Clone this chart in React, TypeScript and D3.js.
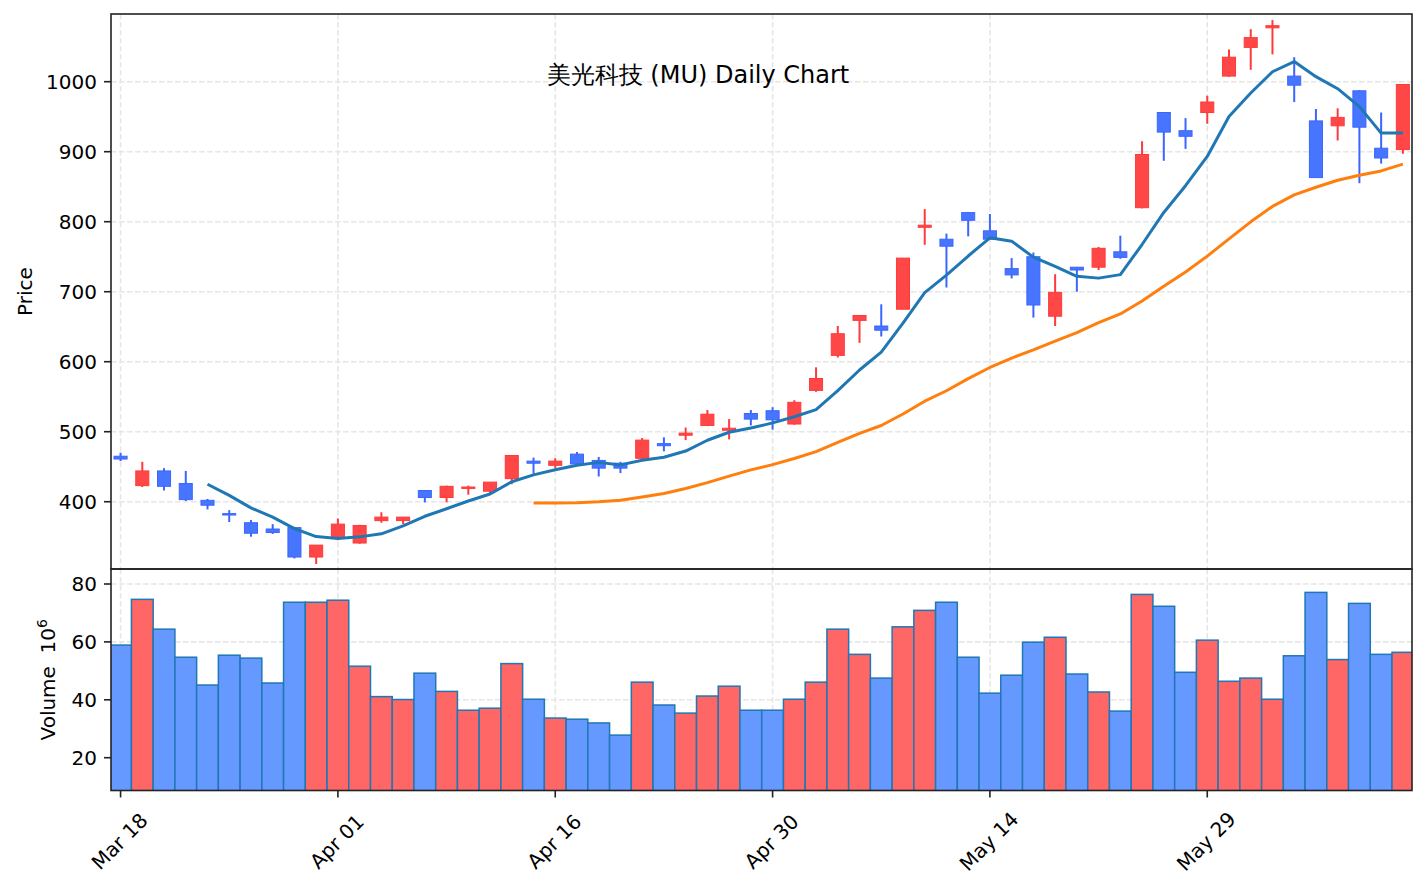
import * as d3 from "d3";

// daily OHLC (index 0 = Mar 18)
const opens = [465, 423, 444, 426, 402, 383, 370, 361, 363, 321, 350, 341, 373, 373, 416, 406, 419, 415, 433, 458,
  452, 468, 459, 455, 462, 483, 495, 509, 502, 526, 530, 511, 559, 609, 659, 651, 675, 792, 775, 813,
  787, 733, 750, 665, 735, 735, 757, 820, 956, 930, 956, 1008, 1049, 1077, 1008, 944, 937, 987, 905, 903];
const highs = [470, 457, 448, 444, 404, 388, 374, 368, 364, 338, 376, 367, 385, 378, 416, 423, 423, 428, 466, 463,
  462, 471, 464, 457, 491, 492, 506, 531, 518, 531, 535, 545, 592, 651, 666, 682, 748, 818, 783, 814,
  811, 748, 756, 725, 735, 764, 780, 915, 956, 948, 980, 1046, 1075, 1088, 1035, 961, 962, 988, 956, 996];
const lows = [458, 421, 416, 401, 389, 371, 350, 354, 319, 311, 345, 340, 370, 368, 399, 399, 410, 412, 425, 440,
  448, 453, 436, 441, 461, 472, 488, 508, 489, 509, 503, 510, 557, 606, 627, 636, 675, 767, 706, 779,
  775, 719, 663, 651, 700, 731, 747, 819, 887, 904, 940, 1007, 1017, 1039, 971, 863, 916, 855, 883, 897];
const closes = [461, 444, 422, 403, 395, 381, 355, 356, 321, 338, 368, 366, 378, 378, 406, 422, 421, 428, 466, 455,
  458, 454, 448, 448, 488, 480, 498, 525, 505, 518, 517, 542, 576, 640, 666, 645, 748, 795, 765, 802,
  775, 724, 681, 699, 731, 762, 749, 896, 928, 922, 971, 1035, 1063, 1080, 995, 863, 949, 935, 891, 996];
// volume in millions
const volumes = [58.9, 74.7, 64.4, 54.7, 45.1, 55.4, 54.4, 45.8, 73.7, 73.7, 74.4, 51.6, 41.1, 40.1, 49.2, 42.9, 36.4, 37.1, 52.5, 40.2,
  33.7, 33.3, 32.0, 27.8, 46.1, 38.2, 35.4, 41.3, 44.7, 36.4, 36.4, 40.2, 46.1, 64.4, 55.7, 47.5, 65.2, 70.9, 73.7, 54.7,
  42.3, 48.5, 59.9, 61.6, 48.9, 42.7, 36.1, 76.4, 72.3, 49.5, 60.6, 46.4, 47.5, 40.2, 55.2, 77.1, 53.9, 73.3, 55.7, 56.4];

const tickIdx = [0, 10, 20, 30, 40, 50];
const tickLabels = ["Mar 18", "Apr 01", "Apr 16", "Apr 30", "May 14", "May 29"];
const priceTicks = [400, 500, 600, 700, 800, 900, 1000];
const volTicks = [20, 40, 60, 80];
const maWindows = [5, 20];
const maColors = ["#1f77b4", "#ff7f0e"];

const W = 1427, H = 889;
const left = 111, right = 1412;
const pTop = 14, pBot = 569, vTop = 569, vBot = 790.5;
const FONT = "DejaVu Sans";
const FS = 20;

const UP_BODY = "#ff4747", UP_EDGE = "#ff3a3a";
const DN_BODY = "#4775ff", DN_EDGE = "#3a66ff";
const UP_VOL = "#ff6666", DN_VOL = "#6699ff";

function movingAvg(vals: number[], n: number) {
  return vals.map((_, i) => (i < n - 1 ? null : d3.mean(vals.slice(i - n + 1, i + 1))!));
}

export default function App() {
  const x = d3.scaleLinear().domain([-0.44, 59.42]).range([left, right]);
  const yP = d3.scaleLinear().domain([303.9, 1096.7]).range([pBot, pTop]);
  const yV = d3.scaleLinear().domain([8.67, 85.18]).range([vBot, vTop]);
  const idx = d3.range(closes.length);
  const bw = x(0.3) - x(-0.3);

  const line = d3
    .line<number | null>()
    .defined((d) => d != null)
    .x((_, i) => x(i))
    .y((d) => yP(d as number));

  const grid = { stroke: "#e6e6e6", strokeWidth: 1.6, strokeDasharray: "5.5,2.5" };

  return (
    <div style={{ position: "absolute", left: 0, top: 0 }}>
      <svg width={W} height={H} style={{ display: "block", background: "#fff" }} fontFamily={FONT}>
        <defs>
          <clipPath id="pclip"><rect x={left} y={pTop} width={right - left} height={pBot - pTop} /></clipPath>
          <clipPath id="vclip"><rect x={left} y={vTop} width={right - left} height={vBot - vTop} /></clipPath>
        </defs>

        {/* grids */}
        {tickIdx.map((t) => (
          <g key={"vg" + t}>
            <line x1={x(t)} x2={x(t)} y1={pTop} y2={pBot} {...grid} />
            <line x1={x(t)} x2={x(t)} y1={vTop} y2={vBot} {...grid} />
          </g>
        ))}
        {priceTicks.map((p) => (
          <line key={"pg" + p} x1={left} x2={right} y1={yP(p)} y2={yP(p)} {...grid} />
        ))}
        {volTicks.map((v) => (
          <line key={"vg" + v} x1={left} x2={right} y1={yV(v)} y2={yV(v)} {...grid} />
        ))}

        {/* candles */}
        <g clipPath="url(#pclip)">
          {idx.map((i) => {
            const up = closes[i] >= opens[i];
            return (
              <line key={"w" + i} x1={x(i)} x2={x(i)} y1={yP(highs[i])} y2={yP(lows[i])}
                stroke={up ? UP_EDGE : DN_EDGE} strokeWidth={2} />
            );
          })}
          {idx.map((i) => {
            const up = closes[i] >= opens[i];
            const top = yP(Math.max(opens[i], closes[i]));
            const h = Math.max(1, yP(Math.min(opens[i], closes[i])) - top);
            return (
              <rect key={"b" + i} x={x(i) - bw / 2} y={top} width={bw} height={h}
                fill={up ? UP_BODY : DN_BODY} stroke={up ? UP_EDGE : DN_EDGE} strokeWidth={1} />
            );
          })}
          {maWindows.map((n, k) => (
            <path key={"ma" + n} d={line(movingAvg(closes, n)) || ""} fill="none"
              stroke={maColors[k]} strokeWidth={3} strokeLinejoin="round" />
          ))}
        </g>

        {/* volume */}
        <g clipPath="url(#vclip)">
          {idx.map((i) => {
            const up = closes[i] >= opens[i];
            return (
              <rect key={"v" + i} x={x(i - 0.5)} y={yV(volumes[i])} width={x(i + 0.5) - x(i - 0.5)}
                height={vBot - yV(volumes[i]) + 2}
                fill={up ? UP_VOL : DN_VOL} stroke="#1f77b4" strokeWidth={1.5} />
            );
          })}
        </g>

        {/* frames */}
        <rect x={left} y={pTop} width={right - left} height={pBot - pTop} fill="none" stroke="#222" strokeWidth={1.6} />
        <rect x={left} y={vTop} width={right - left} height={vBot - vTop} fill="none" stroke="#222" strokeWidth={1.6} />

        {/* y axes */}
        {priceTicks.map((p) => (
          <g key={"pt" + p}>
            <line x1={left - 7} x2={left} y1={yP(p)} y2={yP(p)} stroke="#222" strokeWidth={1.6} />
            <text x={left - 14} y={yP(p)} dy="0.35em" textAnchor="end" fontSize={FS} fill="#000">{p}</text>
          </g>
        ))}
        {volTicks.map((v) => (
          <g key={"vt" + v}>
            <line x1={left - 7} x2={left} y1={yV(v)} y2={yV(v)} stroke="#222" strokeWidth={1.6} />
            <text x={left - 14} y={yV(v)} dy="0.35em" textAnchor="end" fontSize={FS} fill="#000">{v}</text>
          </g>
        ))}

        {/* x axis */}
        {tickIdx.map((t, k) => (
          <g key={"xt" + t}>
            <line x1={x(t)} x2={x(t)} y1={vBot} y2={vBot + 7} stroke="#222" strokeWidth={1.6} />
            <text transform={`translate(${x(t) - 1},${vBot + 51}) rotate(-45)`} textAnchor="middle"
              dominantBaseline="central" fontSize={FS} fill="#000">{tickLabels[k]}</text>
          </g>
        ))}

        {/* labels */}
        <text transform={`translate(32,${(pTop + pBot) / 2}) rotate(-90)`} textAnchor="middle" fontSize={FS}>Price</text>
        <text transform={`translate(55,${(vTop + vBot) / 2}) rotate(-90)`} textAnchor="middle" fontSize={FS}>
          {"Volume\u00A0\u00A010"}<tspan fontSize={14} dy={-8}>6</tspan>
        </text>
        <text x={698} y={83} textAnchor="middle" fontSize={24}>美光科技 (MU) Daily Chart</text>
      </svg>
    </div>
  );
}
